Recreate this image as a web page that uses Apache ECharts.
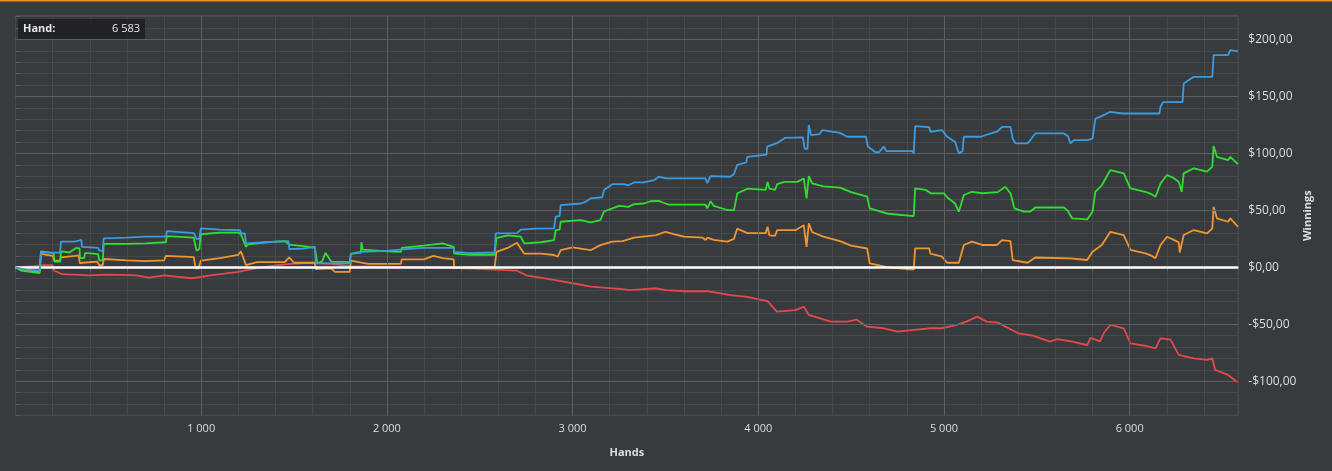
<!DOCTYPE html>
<html>
<head>
<meta charset="utf-8">
<script src="https://cdn.jsdelivr.net/npm/echarts@6/dist/echarts.min.js"></script>
<style>
html,body{margin:0;padding:0;background:#383b3e;}
#c{width:1332px;height:471px;}
</style>
</head>
<body>
<div id="c"></div>
<script>
// ---- data (hand, winnings) ----
const blueData = [[0,0],[60,-2],[130,-3],[137,12.8],[240,13],[245,22.5],[320,22.5],[326,24],[355,24],[358,18],[445,17],[451,14.6],[470,14.6],[475,25.4],[600,26],[700,27],[810,27],[815,31.8],[960,30],[975,25],[990,25],[998,34.2],[1100,33],[1210,32.7],[1214,29.8],[1235,29.8],[1241,21],[1350,22],[1470,23],[1474,16],[1550,16.5],[1612,18],[1617,3.5],[1700,3.5],[1800,3.5],[1806,11.7],[1840,13],[1860,13.5],[2000,14.5],[2100,16],[2200,17],[2360,17],[2362,13.5],[2450,12.5],[2580,13],[2586,29.8],[2700,30],[2721,33],[2800,34],[2900,34.2],[2909,44.4],[2930,45],[2936,54.6],[3044,56],[3070,57.5],[3097,60.5],[3160,61.5],[3169,67.8],[3214,73],[3277,73],[3300,72],[3331,74.5],[3384,74.5],[3440,76.6],[3465,79.5],[3501,78],[3716,78],[3725,74],[3743,80],[3850,79.5],[3869,81.9],[3887,90],[3935,92],[3941,97],[4045,99],[4048,106],[4100,109],[4145,113.7],[4240,114],[4250,104],[4265,104],[4272,124.8],[4285,116],[4330,117],[4345,120.4],[4440,118],[4479,114.6],[4580,114.6],[4590,106],[4631,101],[4650,101],[4676,106],[4690,102],[4830,102],[4837,100],[4845,124],[4920,123],[4927,119],[4990,120.4],[5000,119],[5017,114.6],[5060,110],[5080,100],[5100,102],[5107,114.6],[5200,114.6],[5240,117],[5286,119],[5313,123.3],[5358,123.3],[5370,113],[5385,108.8],[5450,108.8],[5465,111.7],[5492,117.5],[5645,117.5],[5668,115],[5681,108.8],[5700,111.7],[5771,111.7],[5800,113],[5815,130.6],[5840,132],[5896,136.5],[5960,135],[6160,135],[6166,141],[6180,145],[6285,145],[6291,161.4],[6345,167.2],[6445,167.2],[6452,186.2],[6530,186.2],[6542,190.6],[6583,189.5]];

const greenData = [[0,0],[30,-3],[80,-4],[130,-5],[137,14],[205,12.5],[210,5],[240,5],[245,14],[290,13],[300,14],[326,17],[345,16.5],[347,8],[370,8],[375,12.6],[445,11.5],[451,6],[470,6],[475,20.5],[600,20.5],[700,21],[810,22],[815,27.3],[960,26],[975,14.6],[990,16],[998,29],[1100,30.5],[1200,30.5],[1214,29],[1241,18],[1250,20],[1350,22],[1450,23],[1474,20],[1550,18.5],[1612,17],[1617,12],[1625,3.5],[1650,5],[1670,12.6],[1700,5],[1800,4.5],[1806,11.7],[1860,13],[1863,22],[1870,15.5],[2000,14],[2075,13.5],[2080,17],[2200,19],[2300,21],[2360,18],[2362,12],[2450,11],[2580,11],[2590,25.7],[2650,28],[2720,27],[2740,21],[2830,22],[2900,23.9],[2909,32.7],[2930,33],[2936,40],[3044,41.5],[3097,39.5],[3150,41.5],[3169,49],[3214,51.7],[3250,54],[3300,53],[3331,55.5],[3384,56],[3420,58],[3465,58.3],[3500,56],[3520,55],[3716,55],[3725,51.7],[3743,58],[3760,54],[3833,50.3],[3869,50],[3887,64.9],[3941,69],[4040,68],[4050,75],[4060,69],[4090,68],[4102,73],[4140,75],[4210,75],[4245,78],[4260,60.5],[4272,80],[4290,73.7],[4350,71],[4440,70],[4500,66],[4586,62],[4600,51.7],[4700,47],[4837,45],[4845,69.3],[4900,68],[4930,64.9],[5000,64.9],[5017,61.5],[5060,56],[5080,48.8],[5107,63.5],[5150,66.3],[5206,65],[5290,66],[5330,70.7],[5358,65],[5380,51.7],[5430,48.8],[5465,49],[5492,52.5],[5645,52.5],[5665,50],[5690,43],[5771,42],[5800,48.8],[5815,66.3],[5850,72],[5896,85.4],[5968,82.5],[6004,69.3],[6085,66.3],[6120,64],[6139,61.9],[6166,73.6],[6201,81],[6230,79],[6264,75.1],[6280,66.3],[6291,82.5],[6345,86.9],[6417,84],[6445,88.3],[6452,106.4],[6470,97],[6530,94.1],[6542,97],[6583,90.5]];

const orangeData = [[0,-0.6],[60,-3],[130,-4],[137,11.7],[200,10],[209,5.8],[240,5.8],[245,8.8],[320,10],[340,10.5],[347,3.5],[360,4],[440,5],[451,2],[470,2],[475,7.3],[600,6],[700,5.5],[800,6],[810,10],[960,9],[970,-1],[985,-1],[998,5.8],[1100,8],[1200,11],[1214,14],[1241,2],[1300,4.5],[1450,4.5],[1474,8.8],[1500,4],[1612,4],[1617,-1.5],[1700,-1],[1720,-4],[1800,-4],[1806,5.8],[1900,3],[2075,3],[2080,7],[2200,7],[2250,10],[2300,8],[2360,7],[2362,-0.6],[2450,0],[2580,0],[2590,13.5],[2650,17],[2700,21.5],[2740,12],[2830,12],[2900,10.8],[2920,9.3],[2936,15],[3000,17.5],[3097,15],[3150,19.5],[3214,22.5],[3270,23],[3331,26],[3450,28.3],[3501,31.2],[3550,29],[3600,27],[3700,26],[3716,24],[3725,26],[3760,24],[3833,22.5],[3869,25],[3887,34],[3941,30],[4040,30],[4050,35.6],[4060,28],[4090,27.5],[4102,32.6],[4200,32.6],[4245,37],[4260,18],[4272,38.6],[4290,31],[4350,27],[4440,23],[4500,19],[4586,16.5],[4600,3.5],[4700,0],[4837,-2],[4845,16.7],[4920,16.7],[4927,12],[4990,9.3],[5017,4],[5080,4],[5107,19.6],[5150,22.5],[5206,19.6],[5286,19.6],[5313,23.9],[5358,23],[5370,6.4],[5450,4],[5492,8.6],[5680,7.9],[5771,6.4],[5800,13.7],[5850,19.6],[5896,31.2],[5968,28.3],[6004,15.2],[6085,12.3],[6120,10],[6139,7.9],[6166,19.6],[6201,26.8],[6240,23.9],[6264,22],[6270,13],[6291,28.3],[6345,32.7],[6417,29.8],[6445,34.2],[6452,53.2],[6470,43],[6530,40],[6542,43],[6583,35.6]];

const redData = [[0,0],[100,1],[150,2],[200,2],[209,-3],[250,-6],[400,-7],[500,-6.5],[650,-7],[720,-9],[800,-7],[950,-9.6],[1050,-7],[1200,-4],[1320,0],[1474,3],[1600,4],[1700,3],[1800,1],[2000,0.5],[2200,0],[2360,-0.5],[2580,-2],[2700,-3],[2750,-7],[2900,-11],[3000,-14],[3100,-17],[3250,-19],[3313,-20],[3450,-18.4],[3500,-20],[3600,-21],[3725,-21],[3850,-24.5],[3940,-26],[4050,-29.7],[4100,-38.9],[4200,-37.6],[4245,-34.6],[4272,-41.8],[4390,-47.6],[4480,-47.6],[4530,-46],[4586,-52.1],[4676,-53.5],[4750,-56.5],[4837,-55],[4927,-53.5],[4990,-53.5],[5070,-50.6],[5120,-47.7],[5180,-43.3],[5230,-47.7],[5290,-48.6],[5400,-57.9],[5480,-60],[5570,-65.3],[5610,-63],[5690,-65.3],[5771,-68.2],[5790,-62],[5840,-65],[5860,-57.9],[5896,-50.6],[5968,-53.5],[6004,-66.7],[6085,-69],[6139,-71.1],[6166,-62.3],[6220,-63.5],[6264,-76.9],[6345,-79.9],[6417,-81.3],[6445,-79.9],[6460,-90],[6530,-94.5],[6575,-100.3],[6583,-100.3]];

const xMajorTicks = [1000, 2000, 3000, 4000, 5000, 6000];
const yMajorTicks = [-100, -50, 50, 100, 150, 200];
const currentHand = '6 583';

const minorColor = '#46494c';
const majorColor = '#5d6063';
const textColor = '#dedede';
const FONT = '"Open Sans", "DejaVu Sans", sans-serif';

function fmtMoney(v){
  const s = Math.abs(v).toFixed(2).replace('.', ',');
  return (v < 0 ? '-$' : '$') + s;
}
function fmtHand(v){
  return String(v).replace(/\B(?=(\d{3})+(?!\d))/g, ' ');
}

const chart = echarts.init(document.getElementById('c'), null, {renderer: 'canvas'});

function lineSeries(name, data, color, z){
  return {
    name, type: 'line', data, showSymbol: false, symbol: 'none',
    lineStyle: {color, width: 1.8}, itemStyle: {color}, z, silent: true
  };
}

chart.setOption({
  backgroundColor: '#383b3e',
  animation: false,
  grid: {left: 15.5, right: 93.7, top: 16, bottom: 55.6, show: true,
         borderColor: majorColor, borderWidth: 1, backgroundColor: 'transparent'},
  xAxis: {
    type: 'value', min: 0, max: 6585, interval: 200,
    name: 'Hands', nameLocation: 'middle', nameGap: 32,
    nameTextStyle: {color: textColor, fontFamily: FONT, fontSize: 11, fontWeight: 'bold'},
    axisLine: {show: false},
    axisTick: {show: true, inside: false, length: 4, lineStyle: {color: majorColor}},
    axisLabel: {color: textColor, fontFamily: FONT, fontSize: 11, margin: 8,
      showMinLabel: true, showMaxLabel: true,
      formatter: v => (xMajorTicks.indexOf(v) >= 0 ? fmtHand(v) : '')},
    splitLine: {show: true, lineStyle: {color: minorColor, width: 1}}
  },
  yAxis: {
    type: 'value', position: 'right', min: -130, max: 220.6, interval: 10,
    name: 'Winnings', nameLocation: 'middle', nameGap: 64, nameRotate: 90,
    nameMoveOverlap: false,
    nameTextStyle: {color: textColor, fontFamily: FONT, fontSize: 11, fontWeight: 'bold'},
    axisLine: {show: false},
    axisTick: {show: true, inside: false, length: 4, lineStyle: {color: majorColor}},
    axisLabel: {color: textColor, fontFamily: FONT, fontSize: 12, margin: 10,
      formatter: v => ((v === 0 || yMajorTicks.indexOf(v) >= 0) ? fmtMoney(v) : '')},
    splitLine: {show: true, lineStyle: {color: minorColor, width: 1}}
  },
  series: [
    {
      name: 'grid-major', type: 'line', data: [], z: 1, silent: true,
      markLine: {
        silent: true, symbol: 'none', animation: false,
        label: {show: false},
        lineStyle: {color: majorColor, width: 1, type: 'solid'},
        data: xMajorTicks.map(v => ({xAxis: v})).concat(yMajorTicks.map(v => ({yAxis: v})))
      }
    },
    lineSeries('Red', redData, '#e5484c', 3),
    lineSeries('Orange', orangeData, '#f1952f', 4),
    lineSeries('Green', greenData, '#2fdf2f', 5),
    lineSeries('Blue', blueData, '#3b9be0', 6),
    {
      name: 'zero', type: 'line', data: [], z: 10, silent: true,
      markLine: {
        silent: true, symbol: 'none', animation: false,
        label: {show: false},
        lineStyle: {color: '#ffffff', width: 2.5, type: 'solid'},
        data: [{yAxis: 0}]
      }
    }
  ],
  graphic: [
    {type: 'rect', left: 0, top: 0, shape: {width: 1332, height: 1.5}, style: {fill: '#e8912a'}, z: 100},
    {type: 'rect', left: 18, top: 19, shape: {width: 127, height: 20}, style: {fill: 'rgba(30,31,33,0.85)'}, z: 100},
    {type: 'text', left: 23, top: 23, z: 101,
      style: {text: 'Hand:', fill: '#e6e6e6', font: 'bold 11px ' + FONT}},
    {type: 'text', right: 1332 - 140, top: 23, z: 101,
      style: {text: currentHand, fill: '#e6e6e6', font: '11px ' + FONT, align: 'right'}}
  ]
});
</script>
</body>
</html>
